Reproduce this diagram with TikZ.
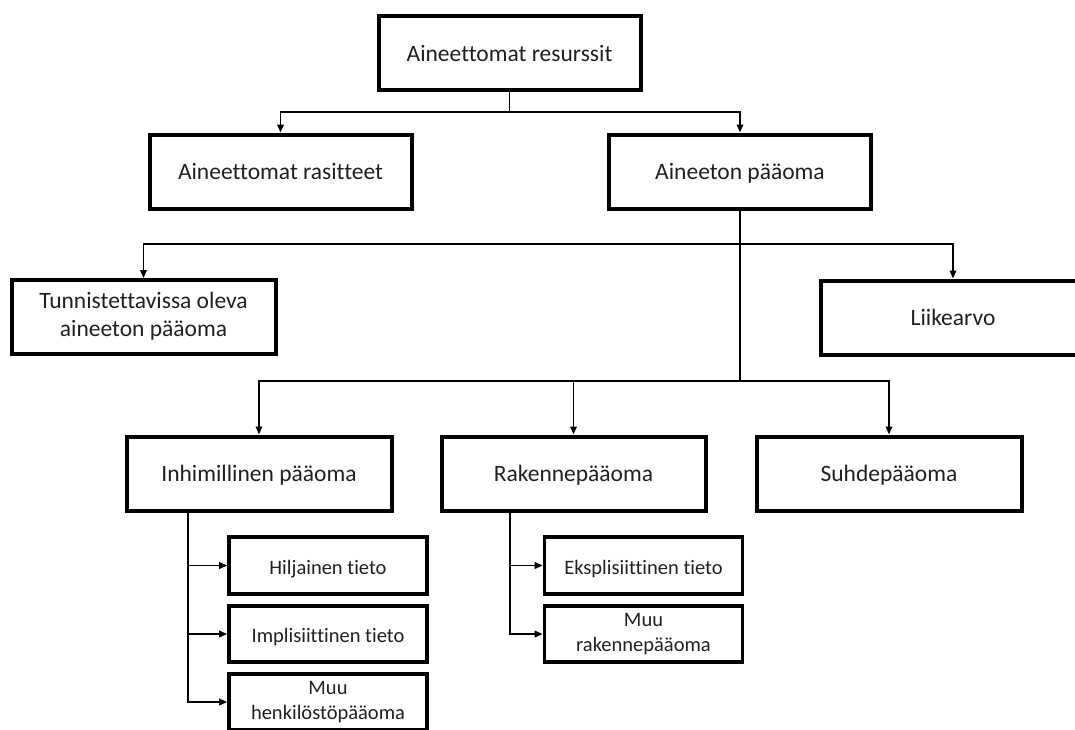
\documentclass[tikz,border=0pt]{standalone}
\usepackage{fontspec}
\setmainfont{Carlito}[Ligatures=NoCommon]
\usetikzlibrary{arrows.meta}
\definecolor{ink}{HTML}{202020}
% struts that fix the first and last line of every label
\newcommand\bigstrut{\rule[-6pt]{0pt}{28pt}}
\newcommand\tallstrut{\rule[-6pt]{0pt}{34pt}}
\newcommand\smallstrut{\rule[-4pt]{0pt}{25pt}}
\tikzset{
  bigbox/.style={draw=black, line width=4pt, rectangle, inner sep=0pt,
    minimum width=262pt, minimum height=74pt, align=center, text=ink,
    font=\fontsize{23.5}{28}\selectfont,
    execute at begin node=\bigstrut, execute at end node=\bigstrut},
  smallbox/.style={draw=black, line width=3.6pt, rectangle, inner sep=0pt,
    minimum width=198pt, minimum height=56.5pt, align=center, text=ink,
    font=\fontsize{20.5}{25}\selectfont,
    execute at begin node=\smallstrut, execute at end node=\smallstrut},
  link/.style={draw=black, line width=1.9pt},
  arr/.style={link, -{Triangle[length=8pt, width=6.5pt]}}
}
\begin{document}
\begin{tikzpicture}[x=1pt, y=-1pt]
\useasboundingbox (0,0) rectangle (1075,729);

% top level
\node[bigbox] (top) at (509.5,53) {Aineettomat resurssit};
\node[bigbox] (ras) at (280.5,171.5) {Aineettomat rasitteet};
\node[bigbox] (pao) at (740,171.5) {Aineeton pääoma};

% second level
\node[bigbox, minimum width=264pt, execute at begin node=\tallstrut]
      (tun) at (143.5,317) {Tunnistettavissa oleva\\aineeton pääoma};
\node[bigbox, minimum width=264pt] (lii) at (953,317.5) {Liikearvo};

% third level
\node[bigbox, minimum width=265pt] (inh) at (259,473.5) {Inhimillinen pääoma};
\node[bigbox, minimum width=264pt] (rak) at (573.5,473.5) {Rakennepääoma};
\node[bigbox, minimum width=265pt] (suh) at (889,473.5) {Suhdepääoma};

% components of human capital
\node[smallbox] (hil) at (328,565.5) {Hiljainen tieto};
\node[smallbox] (imp) at (328,634) {Implisiittinen tieto};
\node[smallbox] (muu1) at (328,702) {Muu\\henkilöstöpääoma};

% components of structural capital
\node[smallbox] (eks) at (643.5,565.5) {Eksplisiittinen tieto};
\node[smallbox] (muu2) at (643.5,634) {Muu\\rakennepääoma};

% junction points
\coordinate (j1) at (509.5,112);
\coordinate (j2) at (740,244);
\coordinate (j3) at (740,381);
\coordinate (s1) at (188,511);
\coordinate (s2) at (510,511);

% connectors
\draw[link] (top.south) -- (j1);
\draw[arr] (j1) -| (ras.north);
\draw[arr] (j1) -| (pao.north);

\draw[link] (pao.south) -- (j3);
\draw[arr] (j2) -| (tun.north);
\draw[arr] (j2) -| (lii.north);
\draw[arr] (j3) -| (inh.north);
\draw[arr] (j3) -| (rak.north);
\draw[arr] (j3) -| (suh.north);

\draw[arr] (s1) |- (hil.west);
\draw[arr] (s1) |- (imp.west);
\draw[arr] (s1) |- (muu1.west);

\draw[arr] (s2) |- (eks.west);
\draw[arr] (s2) |- (muu2.west);
\end{tikzpicture}
\end{document}
